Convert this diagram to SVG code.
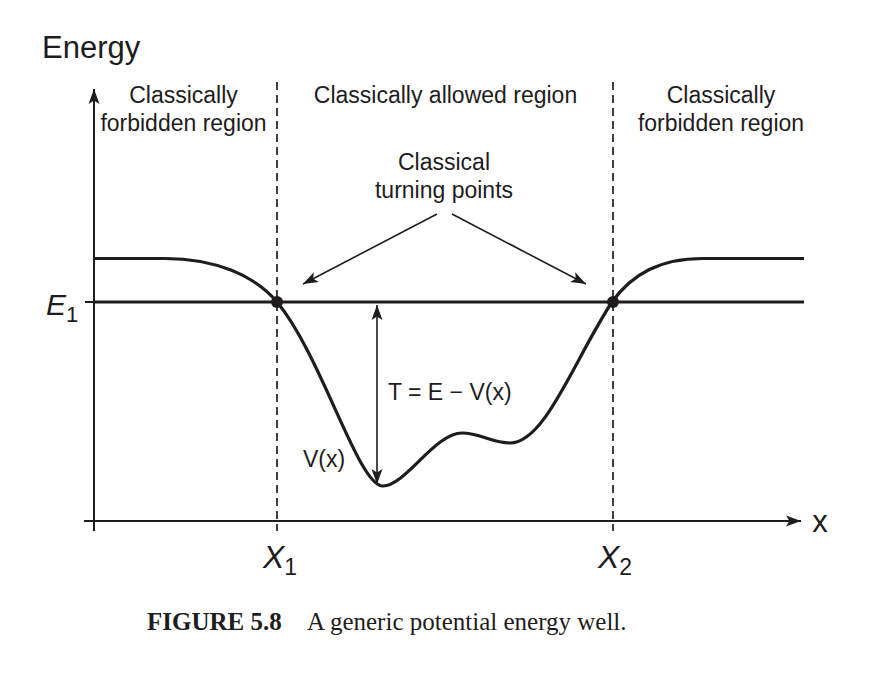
<svg xmlns="http://www.w3.org/2000/svg" width="870" height="688" viewBox="0 0 870 688">
<style>
text{font-family:"Liberation Sans",Arial,sans-serif;fill:#1e1c1d;}
.lbl{font-size:23px;text-anchor:middle;}
.cap{font-family:"Liberation Serif","Times New Roman",serif;font-size:25px;}
.ax{stroke:#1e1c1d;stroke-width:2;fill:none;}
.dash{stroke:#1e1c1d;stroke-width:1.7;stroke-dasharray:8 5;fill:none;}
.thin{stroke:#1e1c1d;stroke-width:1.6;fill:none;}
.thick{stroke:#1e1c1d;stroke-width:3.2;fill:none;}
</style>
<defs>
<marker id="ah" markerUnits="userSpaceOnUse" markerWidth="16" markerHeight="12" viewBox="0 0 16 12" refX="15" refY="6" orient="auto-start-reverse">
<path d="M0,0.5 L15,6 L0,11.5 L3.5,6 Z" fill="#1e1c1d"/>
</marker>
</defs>
<rect width="870" height="688" fill="#fff"/>
<g id="axes">
<line class="ax" x1="94" y1="531" x2="94" y2="89" marker-end="url(#ah)"/>
<line class="ax" x1="84" y1="521" x2="801" y2="521" marker-end="url(#ah)"/>
<line class="ax" x1="85" y1="302" x2="94" y2="302"/>
<text x="42" y="58" style="font-size:31px">Energy</text>
<text x="820" y="532" style="font-size:31px;text-anchor:middle">x</text>
<text x="46" y="315" style="font-size:30px;font-style:italic">E<tspan style="font-size:22px;font-style:normal" dy="7">1</tspan></text>
<text x="263" y="568" style="font-size:32px;font-style:italic">X<tspan style="font-size:23px;font-style:normal" dy="7">1</tspan></text>
<text x="598" y="568" style="font-size:32px;font-style:italic">X<tspan style="font-size:23px;font-style:normal" dy="7">2</tspan></text>
</g>
<g id="boundaries">
<line class="dash" x1="277" y1="82" x2="277" y2="531"/>
<line class="dash" x1="613" y1="82" x2="613" y2="531"/>
</g>
<g id="energy-level">
<line class="thick" x1="94" y1="302" x2="804" y2="302"/>
</g>
<g id="potential">
<path class="thick" d="M94,258.5 H165 C215,258.5 255,275.6 277,302 C322,356 358,486 383,486 C405,486 435,433 462,433 C480,433 492,443 510,443 C545,443 574,360 612,302 C632,274 660,258.5 703,258.5 H804"/>
<text x="303" y="467" style="font-size:23px">V(x)</text>
</g>
<g id="turning-points">
<circle cx="277" cy="302" r="6" fill="#1e1c1d"/>
<circle cx="613" cy="302" r="6" fill="#1e1c1d"/>
</g>
<g id="kinetic">
<line class="thin" x1="377" y1="305" x2="377" y2="484" marker-start="url(#ah)" marker-end="url(#ah)"/>
<text x="388" y="400" style="font-size:23px">T = E − V(x)</text>
</g>
<g id="region-labels">
<text class="lbl" x="183.5" y="103">Classically</text>
<text class="lbl" x="183.5" y="131">forbidden region</text>
<text class="lbl" x="445.5" y="103">Classically allowed region</text>
<text class="lbl" x="721" y="103">Classically</text>
<text class="lbl" x="721" y="131">forbidden region</text>
</g>
<g id="turning-label">
<text class="lbl" x="444" y="170">Classical</text>
<text class="lbl" x="444" y="198">turning points</text>
</g>
<g id="connectors">
<line class="thin" x1="437" y1="214" x2="303" y2="284" marker-end="url(#ah)"/>
<line class="thin" x1="452" y1="214" x2="586" y2="284" marker-end="url(#ah)"/>
</g>
<g id="caption">
<text class="cap" x="147" y="630"><tspan style="font-weight:bold">FIGURE 5.8</tspan><tspan x="307">A generic potential energy well.</tspan></text>
</g>
</svg>
